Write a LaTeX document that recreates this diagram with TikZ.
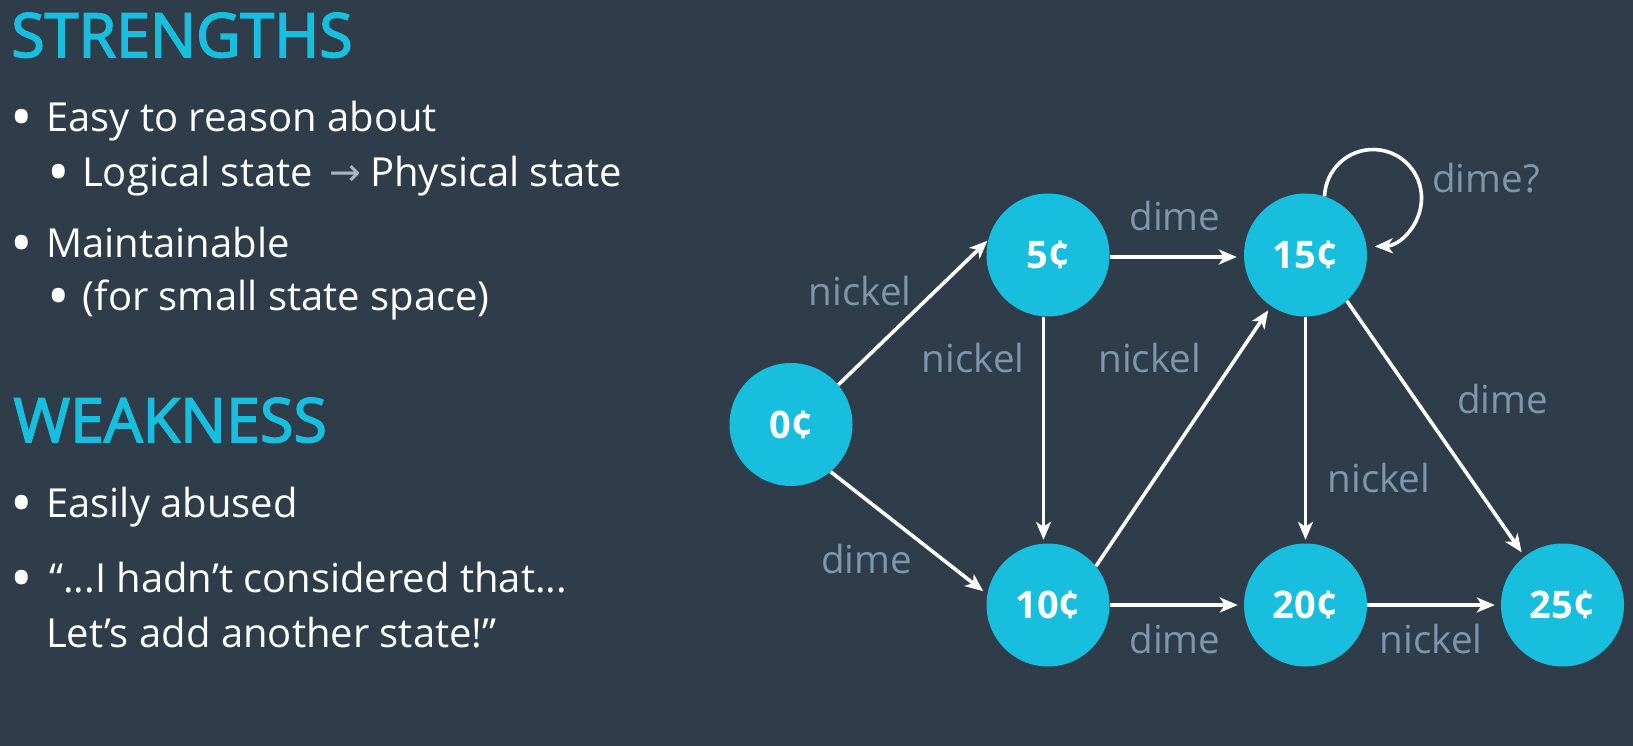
\documentclass[tikz,border=0pt]{standalone}
\usepackage{fontspec}
\setmainfont{Open Sans}
\newfontfamily\headfont[FakeBold=2.6]{Open Sans}
\newfontfamily\symfont{DejaVu Sans}
\usetikzlibrary{arrows.meta}
\definecolor{bg}{HTML}{2E3D49}
\definecolor{cyanc}{HTML}{17BEDD}
\definecolor{lblc}{HTML}{7D97AD}
\definecolor{arrc}{HTML}{AAB6C0}
\begin{document}
\begin{tikzpicture}[x=1pt,y=-1pt,
  state/.style={circle, fill=cyanc, minimum size=123pt, inner sep=0pt, text=white, font=\fontsize{38}{40}\selectfont\bfseries},
  lbl/.style={anchor=base, inner sep=0pt, text=lblc, font=\fontsize{38.6}{40}\selectfont},
  txt/.style={anchor=base west, inner sep=0pt, text=white, font=\fontsize{40}{48}\selectfont},
  head/.style={anchor=base west, inner sep=0pt, text=cyanc, font=\headfont\fontsize{61}{64}\selectfont},
  bul/.style={anchor=base, inner sep=0pt, text=white, font=\fontsize{60}{64}\selectfont},
  conn/.style={draw=white, line width=3.6pt, -{Stealth[length=18pt,width=15pt,inset=5pt]}, shorten >=5pt},
]
\fill[bg] (0,0) rectangle (1633,746);
\useasboundingbox (0,0) rectangle (1633,746);

% left text
\node[head] (h1) at (11,57) {STRENGTHS};
\node[bul] (b1) at (21.7,139) {•};
\node[txt] (t1) at (46,132) {Easy to reason about};
\node[bul] (b2) at (58.5,194) {•};
\node[txt] (t2a) at (82,187) {Logical state};
\node[anchor=base, inner sep=0pt, text=arrc, font=\symfont\fontsize{38}{48}\selectfont] (t2r) at (345,186) {→};
\node[txt] (t2b) at (370,187) {Physical state};
\node[bul] (b3) at (21.7,264) {•};
\node[txt] (t3) at (46,257) {Maintainable};
\node[bul] (b4) at (58.5,317) {•};
\node[txt] (t4) at (82.4,310) {(for small state space)};
\node[head] (h2) at (13.4,442) {WEAKNESS};
\node[bul] (b5) at (21.7,524) {•};
\node[txt] (t5) at (46,517) {Easily abused};
\node[bul] (b6) at (21.7,599) {•};
\node[txt] (t6) at (49,592) {“...I hadn’t considered that...};
\node[txt] (t7) at (46,647) {Let’s add another state!”};

% states
\node[state] (c0) at (791,424.5) {0¢};
\node[state] (c5) at (1048,255) {5¢};
\node[state] (c15) at (1305.5,255) {15¢};
\node[state] (c10) at (1048,605) {10¢};
\node[state] (c20) at (1305.5,605) {20¢};
\node[state] (c25) at (1562.5,605) {25¢};

% connectors
\draw[conn, shorten >=1pt] (c0.40) -- (c5.166);
\draw[conn] (c0.-50) -- (c10.170);
\draw[conn, shorten >=3.5pt] ([xshift=-4.5pt]c5.south) -- ([xshift=-4.5pt]c10.north);
\draw[conn] (c10.39) -- (c15.236);
\draw[conn, shorten >=7pt] ([yshift=-2pt]c5.east) -- ([yshift=-2pt]c15.west);
\draw[conn, shorten >=3.5pt] (c15.south) -- (c20.north);
\draw[conn] (c15.-48) -- (c25.128);
\draw[conn, shorten >=6pt] (c10.east) -- (c20.west);
\draw[conn, shorten >=6pt] (c20.east) -- (c25.west);
\draw[conn, shorten >=0pt] (c15.72) arc[start angle=182, end angle=448, radius=48.5];

% edge labels
\node[lbl] (l1) at (860.3,305) {nickel};
\node[lbl] (l2) at (973.3,372.7) {nickel};
\node[lbl] (l3) at (1149.8,372.7) {nickel};
\node[lbl] (l4) at (1175,231) {dime};
\node[lbl] (l5) at (1486,193) {dime?};
\node[lbl] (l6) at (1502.5,413) {dime};
\node[lbl] (l7) at (1379,492) {nickel};
\node[lbl] (l8) at (866.5,573.3) {dime};
\node[lbl] (l9) at (1175,653.3) {dime};
\node[lbl] (l10) at (1431.3,653.3) {nickel};
\end{tikzpicture}
\end{document}
